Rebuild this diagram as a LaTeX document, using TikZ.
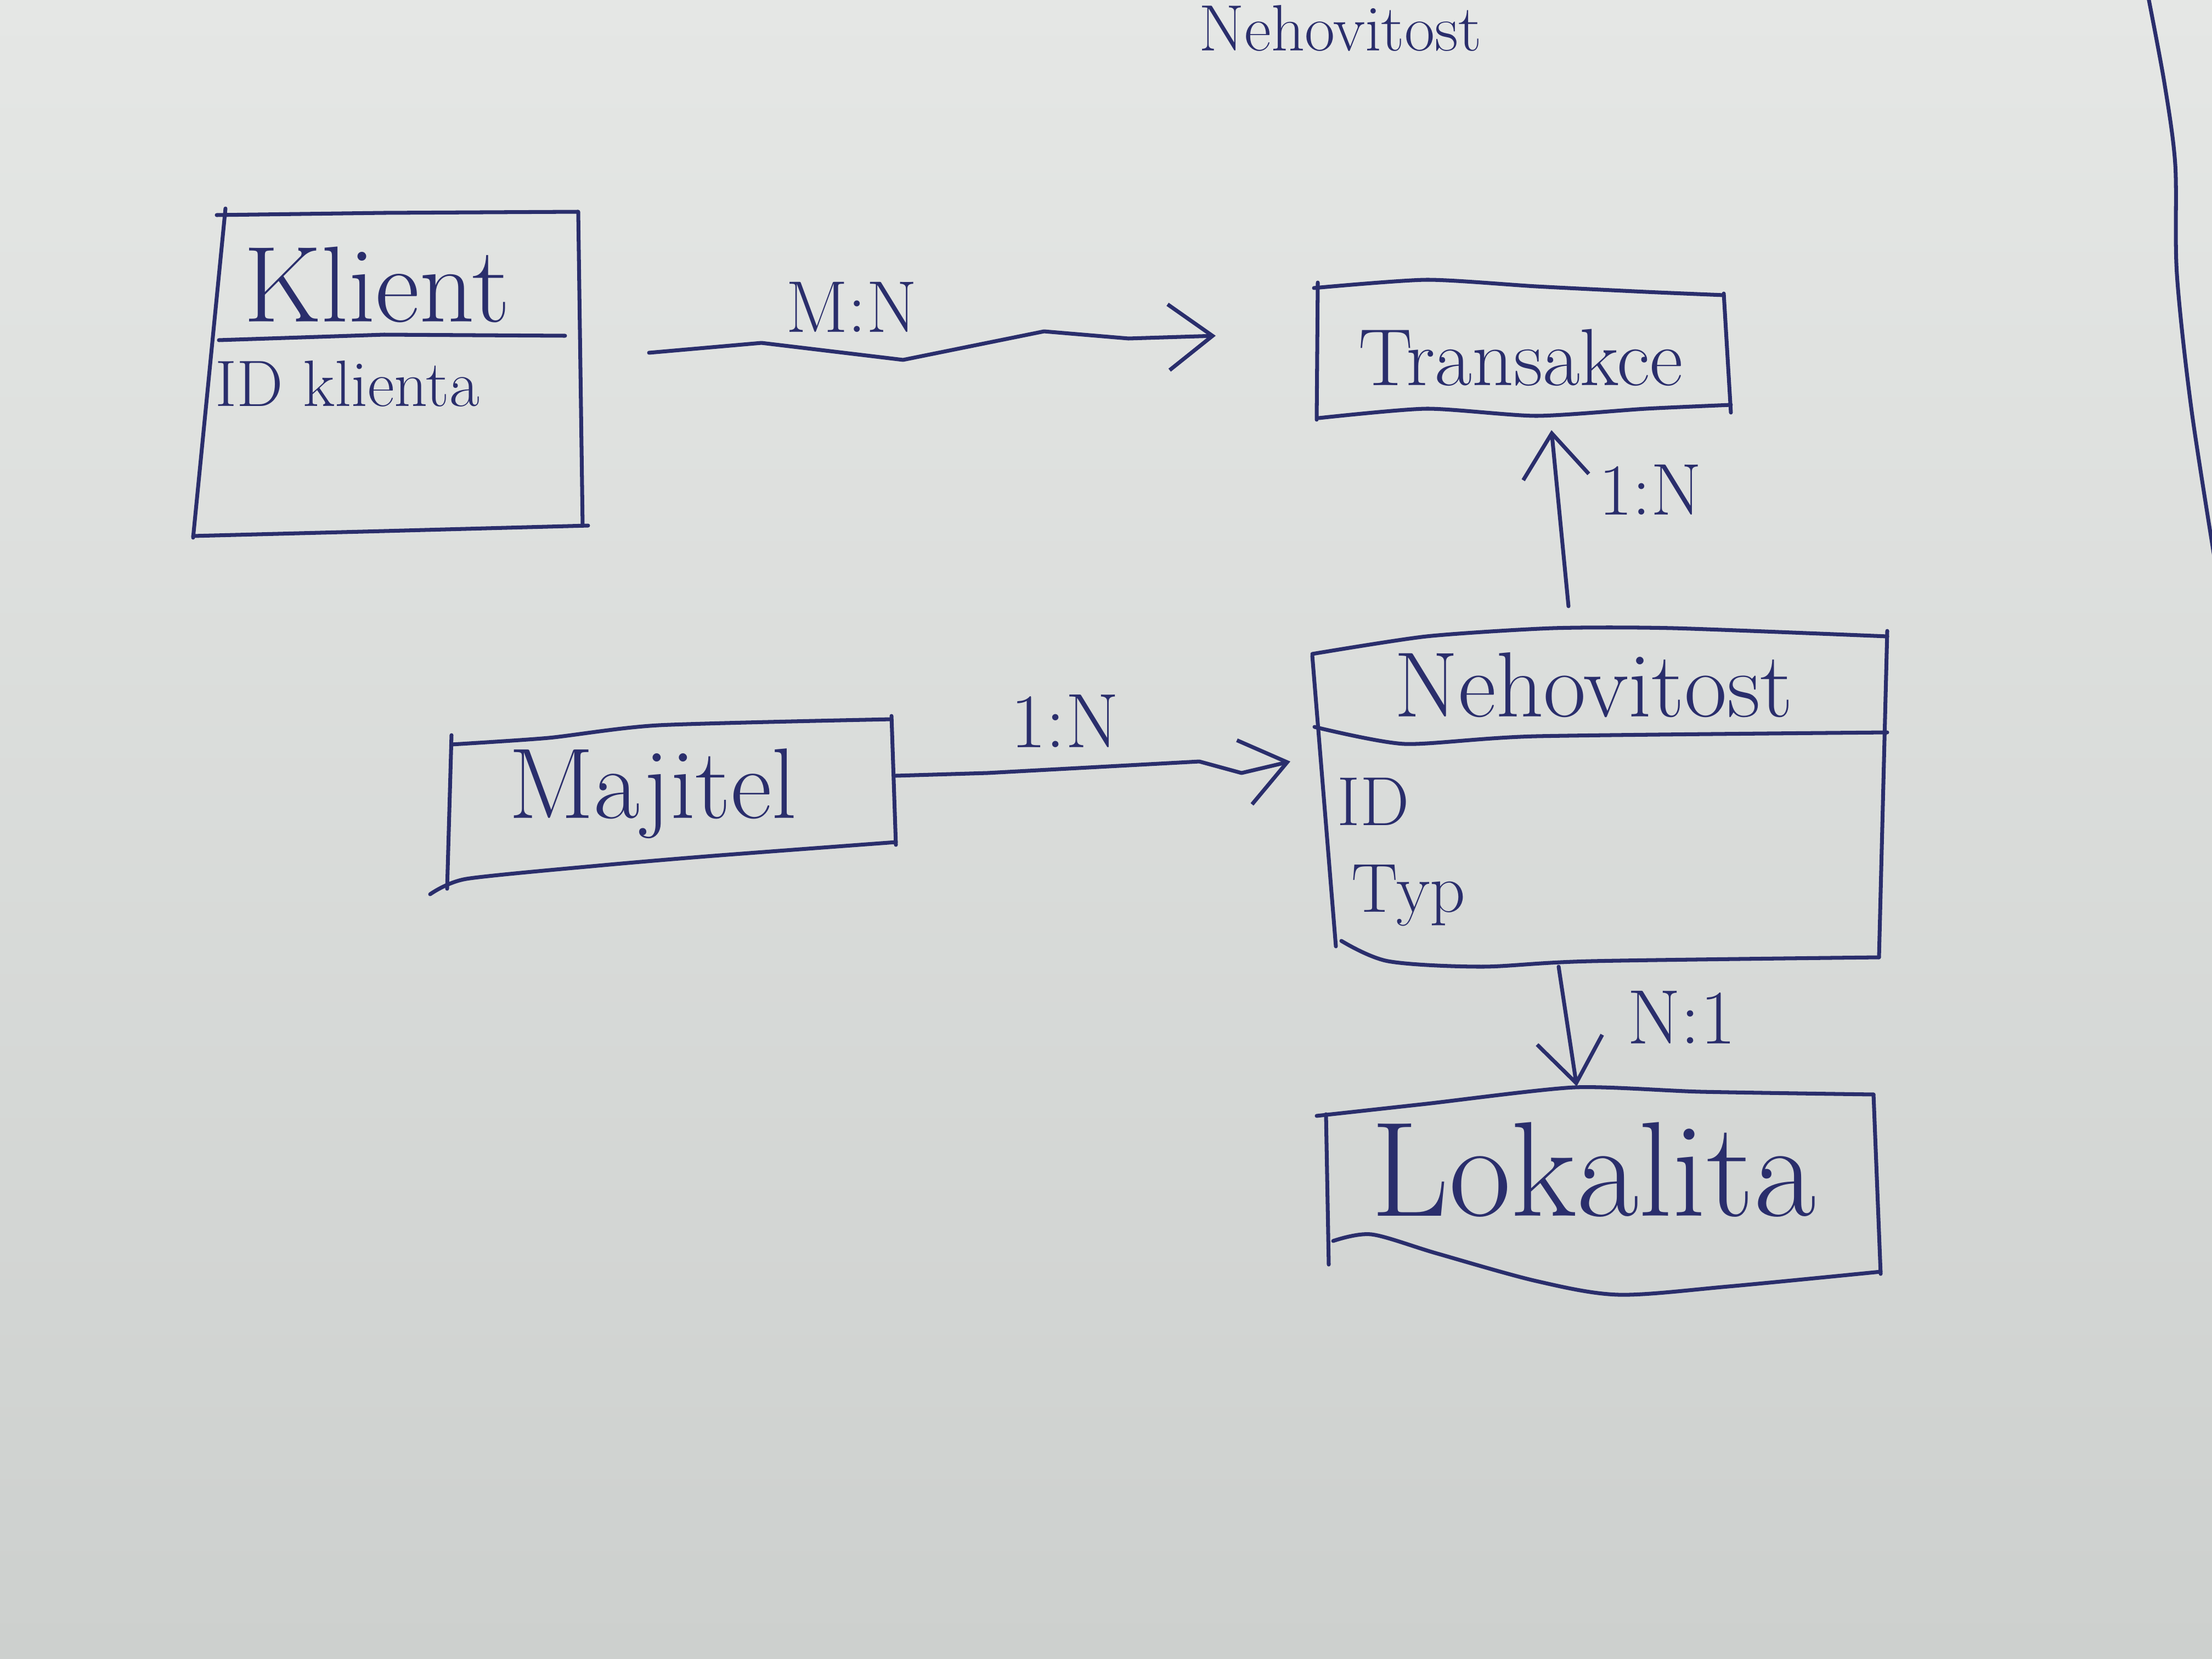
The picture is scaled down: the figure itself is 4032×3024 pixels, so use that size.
\documentclass[tikz,border=0pt]{standalone}
\usepackage{fontspec}
\usetikzlibrary{arrows.meta}
\definecolor{ink}{RGB}{42,46,108}
\definecolor{papertop}{RGB}{229,231,229}
\definecolor{paperbot}{RGB}{205,208,206}
\begin{document}
\begin{tikzpicture}[x=0.01cm,y=-0.01cm,
  inkline/.style={draw=ink, line width=2pt, line cap=round, line join=round},
  conn/.style={inkline, -{Straight Barb[length=8mm,width=12mm]}},
  txt/.style={text=ink, inner sep=0pt, anchor=base},
  title/.style={txt, font=\fontsize{52}{60}\selectfont},
  attr/.style={txt, anchor=base west, font=\fontsize{36}{42}\selectfont},
  card/.style={txt, font=\fontsize{38}{44}\selectfont}]
\useasboundingbox (0,0) rectangle (4032,3024);
\clip (0,0) rectangle (4032,3024);
\shade[top color=papertop, bottom color=paperbot] (0,0) rectangle (4032,3024);

% page edge on the right
\draw[inkline] plot[smooth] coordinates {(3913,-20) (3945,150) (3965,300) (3968,500) (3995,750) (4045,1070)};

% heading at the top of the page
\node[txt, anchor=base west, font=\fontsize{34}{40}\selectfont] (head) at (2185,92) {Nehovitost};

% ---- Klient
\draw[inkline] (395,392) -- (700,388) -- (1054,386) -- (1062,958);
\draw[inkline] (411,380) -- (352,980);
\draw[inkline] (352,977) -- (700,968) -- (1072,958);
\draw[inkline] (399,620) -- (700,610) -- (1030,612);
\node[title, font=\fontsize{56}{64}\selectfont] (klient) at (687,586) {Klient};
\node[attr, font=\fontsize{34}{40}\selectfont] (idk) at (392,740) {ID klienta};

% ---- Transakce
\draw[inkline] plot[smooth, tension=0.4] coordinates {(2395,525) (2600,510) (2800,522) (3000,532) (3142,538)};
\draw[inkline] (3142,535) -- (3155,752);
\draw[inkline] plot[smooth, tension=0.4] coordinates {(2404,762) (2600,745) (2800,758) (3000,745) (3155,738)};
\draw[inkline] (2402,515) -- (2400,765);
\node[card, font=\fontsize{42}{48}\selectfont] (trans) at (2772,702) {Transakce};

% ---- Nehovitost
\draw[inkline] plot[smooth, tension=0.4] coordinates {(2392,1192) (2600,1160) (2830,1145) (3050,1145) (3440,1160)};
\draw[inkline] (3440,1150) -- (3425,1745);
\draw[inkline] plot[smooth, tension=0.5] coordinates {(2445,1715) (2530,1752) (2700,1762) (2900,1752) (3425,1745)};
\draw[inkline] (2392,1195) -- (2435,1725);
\draw[inkline] plot[smooth, tension=0.4] coordinates {(2396,1325) (2560,1356) (2800,1342) (3440,1335)};
\node[title, font=\fontsize{48}{56}\selectfont] (neh) at (2905,1306) {Nehovitost};
\node[attr] (id) at (2437,1504) {ID};
\node[attr] (typ) at (2463,1662) {Typ};

% ---- Majitel
\draw[inkline] plot[smooth, tension=0.4] coordinates {(823,1357) (1000,1345) (1200,1322) (1625,1311)};
\draw[inkline] (1625,1305) -- (1633,1540);
\draw[inkline] plot[smooth, tension=0.4] coordinates {(784,1630) (850,1602) (1100,1577) (1300,1560) (1633,1535)};
\draw[inkline] (823,1340) -- (815,1620);
\node[title] (maj) at (1190,1491) {Majitel};

% ---- Lokalita
\draw[inkline] plot[smooth, tension=0.4] coordinates {(2400,2034) (2600,2012) (2870,1982) (3100,1990) (3415,1995)};
\draw[inkline] (3415,1995) -- (3428,2322);
\draw[inkline] plot[smooth, tension=0.5] coordinates {(2430,2262) (2500,2250) (2620,2285) (2800,2335) (2950,2360) (3150,2345) (3428,2318)};
\draw[inkline] (2417,2031) -- (2422,2305);
\node[txt, font=\fontsize{70}{80}\selectfont] (lok) at (2905,2216) {Lokalita};

% ---- connector end points
\coordinate (mnS) at (1183,643);
\coordinate (mnE) at (2216,612);
\coordinate (majR) at (1633,1414);
\coordinate (nehL) at (2352,1388);
\coordinate (nehT) at (2859,1105);
\coordinate (trB) at (2828,784);
\coordinate (nehB) at (2841,1762);
\coordinate (lokT) at (2874,1980);

% ---- connectors
\draw[conn] (mnS) -- (1388,625) -- (1646,656) -- (1903,604) -- (2057,617) -- (mnE);
\draw[conn] (majR) -- (1800,1409) -- (2186,1388) -- (2263,1409) -- (nehL);
\draw[conn] (nehT) -- (trB);
\draw[conn] (nehB) -- (lokT);

% ---- cardinalities
\node[card] (lmn) at (1552,605) {M:N};
\node[card] (l1n) at (3008,938) {1:N};
\node[card, font=\fontsize{40}{46}\selectfont] (l1nm) at (1941,1362) {1:N};
\node[card, font=\fontsize{40}{46}\selectfont] (ln1) at (3065,1902) {N:1};
\end{tikzpicture}
\end{document}
